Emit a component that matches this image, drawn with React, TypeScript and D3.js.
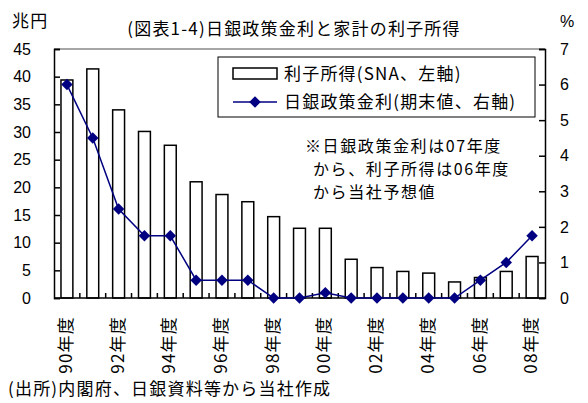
import * as d3 from "d3";
import React, {useEffect, useRef} from "react";

// fiscal years 1990 - 2008
const years = ['90', '91', '92', '93', '94', '95', '96', '97', '98', '99', '00', '01', '02', '03', '04', '05', '06', '07', '08'];
// household interest income (SNA), trillion yen, left axis
const income = [39.4, 41.4, 34.0, 30.1, 27.6, 21.0, 18.7, 17.4, 14.7, 12.6, 12.6, 7.0, 5.5, 4.8, 4.5, 2.9, 3.7, 4.8, 7.5];
// BOJ policy rate (end of period), %, right axis
const rate = [6.0, 4.5, 2.5, 1.75, 1.75, 0.5, 0.5, 0.5, 0, 0, 0.15, 0, 0, 0, 0, 0, 0.5, 1.0, 1.75];
const leftTicks = [0, 5, 10, 15, 20, 25, 30, 35, 40, 45];
const rightTicks = [0, 1, 2, 3, 4, 5, 6, 7];

const title = '(図表1-4)日銀政策金利と家計の利子所得';
const legendLabels = ['利子所得(SNA、左軸)', '日銀政策金利(期末値、右軸)'];
const noteLines = ['※日銀政策金利は07年度', 'から、利子所得は06年度', 'から当社予想値'];
const source = '(出所)内閣府、日銀資料等から当社作成';

const NAVY = '#000080';
const JP = '"Noto Sans CJK JP", sans-serif';
const NUM = '"Liberation Sans", Arial, sans-serif';
const JP_SIZE = '17px';
const JP_SPACING = '1.2px';

const Chart: React.FC = () => {
  const ref = useRef<SVGSVGElement | null>(null);

  useEffect(() => {
    const svg = d3.select(ref.current);
    svg.selectAll('*').remove();

    const width = 588;
    const height = 403;
    const margin = {top: 49, right: 43, bottom: 105, left: 54};
    const x0 = margin.left, x1 = width - margin.right;
    const y0 = height - margin.bottom, y1 = margin.top;

    svg.attr('width', width).attr('height', height);

    const xScale = d3.scaleBand()
      .domain(years)
      .range([x0, x1])
      .paddingInner(0.54)
      .paddingOuter(0.27);
    const step = xScale.step();
    const cx = (d: string) => (xScale(d) || 0) + xScale.bandwidth() / 2;

    const yLeft = d3.scaleLinear().domain([0, 45]).range([y0, y1]);
    const yRight = d3.scaleLinear().domain([0, 7]).range([y0, y1]);

    const jpText = (sel: d3.Selection<SVGTextElement, unknown, null, undefined>) =>
      sel.style('font-family', JP).style('font-size', JP_SIZE).style('letter-spacing', JP_SPACING);

    // top frame line
    svg.append('line')
      .attr('x1', x0).attr('x2', x1).attr('y1', y1).attr('y2', y1)
      .attr('stroke', '#888').attr('stroke-width', 1.5);

    // bars
    svg.selectAll('.bar')
      .data(years)
      .enter()
      .append('rect')
      .attr('class', 'bar')
      .attr('x', (d) => xScale(d) || 0)
      .attr('y', (d, i) => yLeft(income[i]))
      .attr('width', xScale.bandwidth())
      .attr('height', (d, i) => y0 - yLeft(income[i]))
      .attr('fill', 'white')
      .attr('stroke', 'black')
      .attr('stroke-width', 1.5);

    // left axis
    const gl = svg.append('g').attr('transform', `translate(${x0},0)`);
    gl.call(d3.axisRight(yLeft).tickValues(leftTicks).tickSize(6).tickFormat(() => ''));
    gl.select('.domain').attr('stroke-width', 1.5);
    gl.selectAll('line').attr('stroke-width', 1.5);
    leftTicks.forEach((t) => {
      svg.append('text')
        .attr('x', 31).attr('y', yLeft(t)).attr('dy', '0.36em')
        .attr('text-anchor', 'end')
        .style('font-family', NUM).style('font-size', '16px')
        .text(t);
    });

    // right axis
    const gr = svg.append('g').attr('transform', `translate(${x1},0)`);
    gr.call(d3.axisLeft(yRight).tickValues(rightTicks).tickSize(6).tickFormat(() => ''));
    gr.select('.domain').attr('stroke-width', 1.5);
    gr.selectAll('line').attr('stroke-width', 1.5);
    rightTicks.forEach((t) => {
      svg.append('text')
        .attr('x', 560).attr('y', yRight(t)).attr('dy', '0.36em')
        .style('font-family', NUM).style('font-size', '16px')
        .text(t);
    });

    // bottom axis with ticks on band boundaries
    svg.append('line')
      .attr('x1', x0).attr('x2', x1).attr('y1', y0).attr('y2', y0)
      .attr('stroke', 'black').attr('stroke-width', 1.5);
    years.slice(1).forEach((d) => {
      const bx = (xScale(d) || 0) - step * 0.27;
      svg.append('line')
        .attr('x1', bx).attr('x2', bx).attr('y1', y0).attr('y2', y0 - 5)
        .attr('stroke', 'black').attr('stroke-width', 1.5);
    });

    // x labels, every other year
    years.forEach((d, i) => {
      if (i % 2 !== 0) return;
      svg.append('text')
        .attr('transform', `translate(${cx(d) - 1},316) rotate(-90)`)
        .attr('text-anchor', 'end')
        .attr('dy', '0.36em')
        .call(jpText)
        .text(`${d}年度`);
    });

    // policy rate line
    const line = d3.line<number>()
      .x((d, i) => cx(years[i]))
      .y((d) => yRight(d));
    svg.append('path')
      .datum(rate)
      .attr('d', line)
      .attr('fill', 'none')
      .attr('stroke', NAVY)
      .attr('stroke-width', 1.5);
    const diamond = d3.symbol(d3.symbolSquare, 66);
    svg.selectAll('.pt')
      .data(rate)
      .enter()
      .append('path')
      .attr('class', 'pt')
      .attr('d', diamond)
      .attr('transform', (d, i) => `translate(${cx(years[i])},${yRight(d)}) rotate(45)`)
      .attr('fill', NAVY);

    // legend
    const lg = svg.append('g');
    lg.append('rect')
      .attr('x', 218).attr('y', 57).attr('width', 317).attr('height', 60)
      .attr('fill', 'white').attr('stroke', 'black').attr('stroke-width', 1);
    lg.append('rect')
      .attr('x', 233).attr('y', 68).attr('width', 44).attr('height', 11)
      .attr('fill', 'white').attr('stroke', 'black').attr('stroke-width', 1.5);
    lg.append('line')
      .attr('x1', 233).attr('x2', 277).attr('y1', 102).attr('y2', 102)
      .attr('stroke', NAVY).attr('stroke-width', 1.5);
    lg.append('path')
      .attr('d', diamond)
      .attr('transform', 'translate(255,102) rotate(45)')
      .attr('fill', NAVY);
    legendLabels.forEach((t, i) => {
      lg.append('text')
        .attr('x', 284).attr('y', 74 + i * 28).attr('dy', '0.36em')
        .call(jpText)
        .text(t);
    });

    // note
    noteLines.forEach((t, i) => {
      svg.append('text')
        .attr('x', i === 0 ? 305 : 313).attr('y', 146 + i * 23).attr('dy', '0.36em')
        .call(jpText)
        .style('font-size', '16px')
        .style('letter-spacing', '1.6px')
        .text(t);
    });

    // titles
    svg.append('text')
      .attr('x', 294).attr('y', 29).attr('dy', '0.36em')
      .attr('text-anchor', 'middle')
      .call(jpText)
      .text(title);
    svg.append('text')
      .attr('x', 12).attr('y', 21).attr('dy', '0.36em')
      .call(jpText)
      .text('兆円');
    svg.append('text')
      .attr('x', 560).attr('y', 21).attr('dy', '0.36em')
      .style('font-family', NUM).style('font-size', '16px')
      .text('%');
    svg.append('text')
      .attr('x', 8).attr('y', 389).attr('dy', '0.36em')
      .call(jpText)
      .text(source);

    return () => {
      svg.selectAll('*').remove();
    };
  }, []);

  return <svg ref={ref} style={{position: 'absolute', left: 0, top: 0, background: 'white'}}/>;
};

export default function App() {
  return <Chart/>;
}
